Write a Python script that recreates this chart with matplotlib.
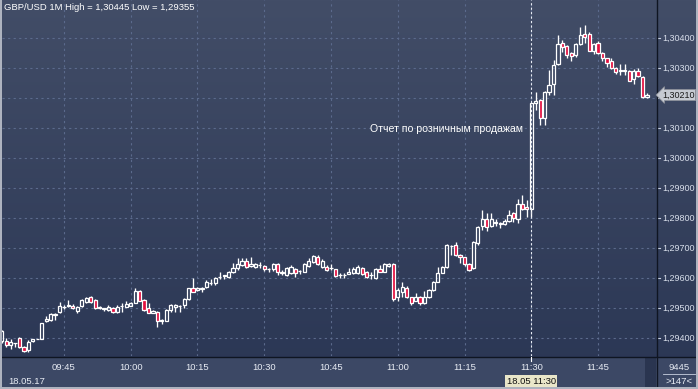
import numpy as np
import pandas as pd
import matplotlib
matplotlib.use("Agg")
import matplotlib.pyplot as plt
from matplotlib.patches import Rectangle
from matplotlib.lines import Line2D
from matplotlib.transforms import blended_transform_factory

plt.rcParams['font.family'] = ['Liberation Sans', 'DejaVu Sans']

# ---------------- data ----------------
start_time = "2017-05-18 09:31"
opens = [1.29390,1.29390,1.29377,1.29382,1.29399,1.29371,1.29360,1.29389,1.29397,1.29397,
         1.29456,1.29460,1.29478,1.29486,1.29504,1.29508,1.29507,1.29491,1.29508,1.29521,
         1.29537,1.29527,1.29501,1.29498,1.29493,1.29499,1.29486,1.29506,1.29504,1.29508,
         1.29518,1.29558,1.29527,1.29499,1.29485,1.29488,1.29458,1.29458,1.29493,1.29505,
         1.29506,1.29510,1.29529,1.29566,1.29559,1.29565,1.29569,1.29583,1.29585,1.29604,
         1.29606,1.29604,1.29619,1.29635,1.29643,1.29657,1.29640,1.29638,1.29642,1.29641,
         1.29629,1.29629,1.29647,1.29618,1.29610,1.29618,1.29630,1.29623,1.29621,1.29641,
         1.29654,1.29669,1.29638,1.29638,1.29632,1.29629,1.29610,1.29610,1.29614,1.29616,
         1.29616,1.29634,1.29621,1.29610,1.29599,1.29629,1.29621,1.29640,1.29647,1.29536,
         1.29554,1.29566,1.29536,1.29524,1.29538,1.29518,1.29538,1.29560,1.29588,1.29618,
         1.29636,1.29706,1.29710,1.29677,1.29669,1.29647,1.29634,1.29718,1.29773,1.29796,
         1.29773,1.29784,1.29785,1.29779,1.29791,1.29816,1.29796,1.29847,1.29836,1.29829,
         1.30182,1.30193,1.30132,1.30221,1.30247,1.30312,1.30382,1.30373,1.30349,1.30343,
         1.30380,1.30413,1.30413,1.30358,1.30384,1.30349,1.30332,1.30324,1.30299,1.30290,
         1.30291,1.30291,1.30262,1.30291,1.30271,1.30205]
highs = [1.29427,1.29399,1.29397,1.29384,1.29402,1.29375,1.29393,1.29398,1.29398,1.29449,
         1.29472,1.29482,1.29484,1.29519,1.29510,1.29527,1.29512,1.29506,1.29531,1.29537,
         1.29539,1.29529,1.29506,1.29501,1.29510,1.29502,1.29509,1.29516,1.29525,1.29520,
         1.29566,1.29560,1.29529,1.29518,1.29495,1.29490,1.29462,1.29498,1.29513,1.29512,
         1.29510,1.29533,1.29568,1.29599,1.29571,1.29571,1.29593,1.29597,1.29603,1.29619,
         1.29611,1.29622,1.29649,1.29666,1.29666,1.29666,1.29671,1.29649,1.29654,1.29643,
         1.29632,1.29650,1.29649,1.29627,1.29636,1.29642,1.29633,1.29627,1.29650,1.29666,
         1.29677,1.29677,1.29662,1.29645,1.29647,1.29631,1.29618,1.29616,1.29635,1.29638,
         1.29642,1.29636,1.29625,1.29621,1.29632,1.29643,1.29650,1.29651,1.29650,1.29566,
         1.29586,1.29573,1.29538,1.29549,1.29540,1.29558,1.29564,1.29591,1.29638,1.29640,
         1.29713,1.29710,1.29721,1.29680,1.29671,1.29650,1.29724,1.29772,1.29827,1.29816,
         1.29816,1.29797,1.29787,1.29796,1.29827,1.29820,1.29862,1.29877,1.29860,1.30185,
         1.30221,1.30196,1.30224,1.30293,1.30327,1.30410,1.30393,1.30376,1.30354,1.30384,
         1.30438,1.30445,1.30420,1.30384,1.30389,1.30352,1.30335,1.30332,1.30302,1.30313,
         1.30313,1.30294,1.30296,1.30299,1.30273,1.30218]
lows = [1.29383,1.29371,1.29363,1.29371,1.29367,1.29355,1.29355,1.29388,1.29396,1.29396,
        1.29455,1.29458,1.29460,1.29482,1.29497,1.29504,1.29497,1.29482,1.29505,1.29518,
        1.29517,1.29497,1.29498,1.29490,1.29490,1.29482,1.29483,1.29488,1.29502,1.29506,
        1.29516,1.29522,1.29490,1.29482,1.29483,1.29436,1.29447,1.29456,1.29487,1.29488,
        1.29488,1.29500,1.29526,1.29552,1.29556,1.29554,1.29567,1.29578,1.29578,1.29596,
        1.29596,1.29599,1.29616,1.29627,1.29640,1.29635,1.29638,1.29635,1.29632,1.29625,
        1.29621,1.29625,1.29610,1.29610,1.29608,1.29615,1.29604,1.29613,1.29619,1.29638,
        1.29650,1.29645,1.29635,1.29625,1.29627,1.29604,1.29599,1.29599,1.29612,1.29613,
        1.29613,1.29610,1.29599,1.29596,1.29596,1.29619,1.29619,1.29638,1.29524,1.29524,
        1.29538,1.29533,1.29510,1.29522,1.29510,1.29514,1.29534,1.29558,1.29586,1.29616,
        1.29633,1.29677,1.29674,1.29649,1.29640,1.29624,1.29631,1.29710,1.29760,1.29758,
        1.29770,1.29773,1.29766,1.29776,1.29786,1.29788,1.29782,1.29826,1.29804,1.29804,
        1.30160,1.30110,1.30110,1.30210,1.30210,1.30309,1.30354,1.30332,1.30324,1.30338,
        1.30376,1.30382,1.30356,1.30347,1.30346,1.30324,1.30304,1.30296,1.30280,1.30277,
        1.30277,1.30256,1.30247,1.30270,1.30199,1.30199]
closes = [1.29425,1.29377,1.29388,1.29383,1.29369,1.29358,1.29388,1.29396,1.29398,1.29449,
          1.29462,1.29479,1.29479,1.29507,1.29505,1.29509,1.29499,1.29504,1.29527,1.29534,
          1.29519,1.29499,1.29502,1.29498,1.29504,1.29486,1.29504,1.29507,1.29512,1.29518,
          1.29558,1.29524,1.29493,1.29484,1.29490,1.29458,1.29459,1.29495,1.29510,1.29510,
          1.29507,1.29529,1.29566,1.29554,1.29567,1.29566,1.29587,1.29585,1.29599,1.29605,
          1.29610,1.29619,1.29635,1.29647,1.29658,1.29638,1.29647,1.29647,1.29643,1.29629,
          1.29630,1.29647,1.29621,1.29619,1.29632,1.29638,1.29616,1.29624,1.29647,1.29657,
          1.29673,1.29647,1.29658,1.29627,1.29633,1.29607,1.29611,1.29611,1.29620,1.29629,
          1.29638,1.29613,1.29604,1.29611,1.29629,1.29621,1.29647,1.29647,1.29529,1.29560,
          1.29569,1.29536,1.29518,1.29538,1.29518,1.29536,1.29560,1.29588,1.29618,1.29636,
          1.29710,1.29708,1.29677,1.29669,1.29647,1.29627,1.29721,1.29769,1.29796,1.29769,
          1.29796,1.29786,1.29779,1.29791,1.29810,1.29799,1.29847,1.29829,1.29829,1.30182,
          1.30191,1.30132,1.30221,1.30243,1.30310,1.30380,1.30371,1.30343,1.30340,1.30380,
          1.30410,1.30402,1.30358,1.30380,1.30349,1.30332,1.30318,1.30299,1.30288,1.30292,
          1.30292,1.30258,1.30291,1.30273,1.30202,1.30210]

time_ticks = ["09:45", "10:00", "10:15", "10:30", "10:45", "11:00", "11:15", "11:30", "11:45"]
price_ticks = [1.294, 1.295, 1.296, 1.297, 1.298, 1.299, 1.300, 1.301, 1.302, 1.303, 1.304]
event_time = "11:30"
event_label = "Отчет по розничным продажам"
event_price_pos = 1.30097
title = "GBP/USD 1M High = 1,30445 Low = 1,29355"
date_label = "18.05.17"
event_stamp = "18.05 11:30"
last_price = 1.30210
corner_top = "9445"
corner_bottom = ">147<"

# ---------------- figure ----------------
W, H = 698, 389
fig = plt.figure(figsize=(W / 100, H / 100), dpi=100)

def fx(px):
    return px / W

def fy(py):
    return 1 - py / H

# gradient background
bg = fig.add_axes([0, 0, 1, 1], zorder=-5)
bg.set_axis_off()
top = np.array([66, 77, 103]) / 255
bot = np.array([42, 54, 84]) / 255
g = np.linspace(0, 1, 256)[:, None]
grad = top[None, :] * (1 - g) + bot[None, :] * g
bg.imshow(grad[:, None, :].repeat(2, axis=1), aspect='auto', extent=[0, 1, 0, 1],
          transform=bg.transAxes)
bg.set_xlim(0, 1)
bg.set_ylim(0, 1)

n = len(opens)
t0 = pd.Timestamp(start_time)
xs = np.arange(n)

def tpos(hhmm):
    t = pd.Timestamp(f"{t0.date()} {hhmm}")
    return (t - t0).total_seconds() / 60.0

ax = fig.add_axes([fx(2), fy(356), fx(654), 356 / H])
ax.patch.set_alpha(0)
ax.set_xlim(0.07, 147.03)
ax.set_ylim(1.2934, 1.305267)
for s in ax.spines.values():
    s.set_visible(False)
ax.set_xticks([tpos(t) for t in time_ticks])
ax.set_yticks(price_ticks)
ax.tick_params(length=0, labelleft=False, labelbottom=False)
ax.grid(True, color='#5b6a8c', linestyle=(0, (2, 3)), linewidth=0.8)
ax.set_axisbelow(True)

o = np.array(opens); h = np.array(highs); l = np.array(lows); c = np.array(closes)
btop = np.maximum(o, c)
bbot = np.minimum(o, c)
ax.vlines(xs, btop, h, color='white', lw=0.95, zorder=3)
ax.vlines(xs, l, bbot, color='white', lw=0.95, zorder=3)
bw = 0.72
for i in range(n):
    hgt = max(btop[i] - bbot[i], 0.000004)
    up = c[i] >= o[i]
    ax.add_patch(Rectangle((xs[i] - bw / 2, bbot[i]), bw, hgt,
                           facecolor='none' if up else '#e3103f',
                           edgecolor='white', lw=0.9, zorder=4))

ex = tpos(event_time)
ax.axvline(ex, color='#e8ecf4', lw=0.8, linestyle=(0, (2, 2)), zorder=5)
ax.annotate(event_label, xy=(ex, event_price_pos), xytext=(-8, 0),
            textcoords='offset pixels', ha='right', va='center',
            color='white', fontsize=7.6)

# ----- frame pieces -----
fig.patches.append(Rectangle((0, 0), 1, fy(357), transform=fig.transFigure,
                             facecolor='#3c4865', edgecolor='none', zorder=1))
fig.patches.append(Rectangle((fx(645), fy(387)), fx(11), (387 - 357) / H,
                             transform=fig.transFigure, facecolor='#2a3550',
                             edgecolor='none', zorder=2))
fig.lines.append(Line2D([0, 1], [fy(356.5), fy(356.5)], transform=fig.transFigure,
                        color='#0f1522', lw=1.0, zorder=3))
fig.lines.append(Line2D([fx(656.5), fx(656.5)], [0, 1], transform=fig.transFigure,
                        color='#0f1522', lw=1.0, zorder=3))
for (x0, y0, w, hh) in [(0, 0, 2, H), (0, 387, W, 2), (696, 0, 2, H)]:
    fig.patches.append(Rectangle((fx(x0), fy(y0 + hh)), w / W, hh / H,
                                 transform=fig.transFigure, facecolor='#aeb3bf',
                                 edgecolor='none', zorder=6))

# title
fig.text(fx(4), fy(8), title, color='white', fontsize=6.8, ha='left', va='center')

# price axis labels (the one hidden under the current-price tag is skipped)
tr_y = blended_transform_factory(fig.transFigure, ax.transData)
for p in price_ticks:
    fig.lines.append(Line2D([fx(657), fx(660)], [p, p], transform=tr_y,
                            color='#c8d0e0', lw=0.8))
    if abs(p - last_price) < 0.0002:
        continue
    fig.text(fx(662), p, f"{p:.5f}".replace('.', ','), transform=tr_y,
             color='#d8deea', fontsize=6.5, ha='left', va='center')

# current price tag
fig.text(fx(662), last_price, f"{last_price:.5f}".replace('.', ','), transform=tr_y,
         color='#1a1a1a', fontsize=6.5, ha='left', va='center', zorder=8,
         bbox=dict(boxstyle='larrow,pad=0.12', facecolor='#c6cad2',
                   edgecolor='#8a8e98', lw=0.6))

# time labels
tr_x = blended_transform_factory(ax.transData, fig.transFigure)
for t in time_ticks:
    fig.text(tpos(t), fy(367), t, transform=tr_x, color='#e8ecf4',
             fontsize=6.8, ha='center', va='center', zorder=7)
fig.text(fx(8), fy(381), date_label, color='#e8ecf4', fontsize=6.8,
         ha='left', va='center', zorder=7)
fig.text(ex, fy(381), event_stamp, transform=tr_x, color='#111111', fontsize=6.8,
         ha='center', va='center', zorder=7,
         bbox=dict(boxstyle='square,pad=0.15', facecolor='#e9e6c9', edgecolor='none'))
fig.lines.append(Line2D([ex, ex], [fy(357), fy(361)], transform=tr_x,
                        color='white', lw=0.8, zorder=7))

# bottom-right corner
fig.text(fx(679), fy(367), corner_top, color='#e8ecf4', fontsize=6.8,
         ha='center', va='center', zorder=7)
fig.text(fx(679), fy(381), corner_bottom, color='#e8ecf4', fontsize=6.8,
         ha='center', va='center', zorder=7)
fig.lines.append(Line2D([fx(663), fx(695)], [fy(374), fy(374)],
                        transform=fig.transFigure, color='#c8d0e0', lw=0.6, zorder=7))

fig.savefig("out.png", dpi=100)
